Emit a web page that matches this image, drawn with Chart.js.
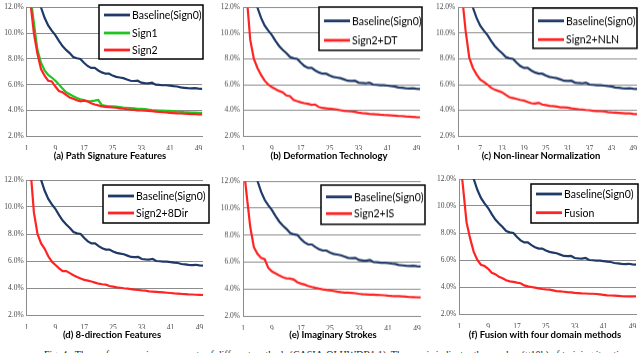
<!DOCTYPE html>
<html>
<head>
<meta charset="utf-8">
<script src="https://cdn.jsdelivr.net/npm/chart.js@4.4.0/dist/chart.umd.min.js"></script>
<style>
html, body { margin: 0; padding: 0; background: #fff; width: 640px; height: 353px; overflow: hidden; position: relative; }
canvas { position: absolute; }
.cap { position: absolute; font: bold 9.5px Lato, sans-serif; color: #000; white-space: nowrap; transform: translate(-50%, -50%); }
.fig { position: absolute; left: 44px; top: 349px; font: 10px "Liberation Serif", serif; color: #222; white-space: nowrap; }
</style>
</head>
<body>
<div class="fig">Fig. 4.&nbsp;&nbsp;The performance improvements of different methods (CASIA-OLHWDB1.1). The x-axis indicates the number (×10k) of training iterations.</div>
<script>
// x categories (training checkpoints)
const iterations = ['1','2','3','4','5','6','7','8','9','10','11','12','13','14','15','16','17','18','19','20',
  '21','22','23','24','25','26','27','28','29','30','31','32','33','34','35','36','37','38','39','40',
  '41','42','43','44','45','46','47','48','49','50'];

// error rates (%)
const baseline = [22, 17, 14.5, 12.9, 12.0, 11.2, 10.6, 10.2, 9.85, 9.4,
  9.0, 8.7, 8.45, 8.15, 8.05, 8.0, 7.7, 7.45, 7.3, 7.3,
  7.1, 6.95, 6.85, 6.85, 6.7, 6.6, 6.55, 6.5, 6.4, 6.3,
  6.28, 6.3, 6.15, 6.12, 6.1, 6.15, 6.0, 5.98, 5.95, 5.95,
  5.92, 5.88, 5.85, 5.78, 5.75, 5.72, 5.7, 5.72, 5.68, 5.66];
const sign1 = [22, 13, 10.8, 8.7, 7.7, 7.1, 6.75, 6.55, 6.3, 6.0,
  5.7, 5.4, 5.25, 5.1, 4.95, 4.85, 4.8, 4.7, 4.72, 4.75,
  4.8, 4.4, 4.35, 4.3, 4.3, 4.28, 4.25, 4.22, 4.2, 4.18,
  4.15, 4.12, 4.12, 4.1, 4.05, 4.02, 4.0, 3.98, 3.97, 3.96,
  3.95, 3.93, 3.9, 3.88, 3.86, 3.85, 3.83, 3.82, 3.81, 3.8];
const sign2 = [20, 12.5, 10.0, 8.4, 7.2, 6.7, 6.3, 6.25, 5.85, 5.5,
  5.4, 5.2, 5.0, 4.9, 4.78, 4.7, 4.75, 4.7, 4.55, 4.45,
  4.38, 4.3, 4.27, 4.25, 4.22, 4.2, 4.15, 4.12, 4.08, 4.05,
  4.03, 4.0, 4.0, 3.97, 3.95, 3.93, 3.9, 3.87, 3.85, 3.83,
  3.8, 3.78, 3.76, 3.75, 3.73, 3.72, 3.7, 3.7, 3.69, 3.68];
const sign2DT = [20, 13, 9.5, 8.0, 7.3, 6.75, 6.3, 6.0, 5.8, 5.65,
  5.5, 5.4, 5.15, 5.1, 4.8, 4.7, 4.62, 4.55, 4.5, 4.42,
  4.45, 4.25, 4.18, 4.15, 4.12, 4.1, 4.05, 4.0, 3.95, 3.92,
  3.9, 3.87, 3.82, 3.78, 3.75, 3.72, 3.7, 3.68, 3.65, 3.63,
  3.62, 3.6, 3.58, 3.56, 3.55, 3.52, 3.5, 3.48, 3.46, 3.45];
const sign2NLN = [20, 13, 10.2, 8.1, 7.3, 6.8, 6.4, 6.2, 6.0, 5.75,
  5.6, 5.5, 5.4, 5.2, 5.02, 4.95, 4.88, 4.8, 4.75, 4.65,
  4.55, 4.52, 4.58, 4.45, 4.4, 4.35, 4.32, 4.28, 4.22, 4.22,
  4.2, 4.15, 4.12, 4.08, 4.05, 4.02, 4.0, 3.95, 3.93, 3.92,
  3.9, 3.85, 3.83, 3.82, 3.8, 3.78, 3.76, 3.75, 3.72, 3.7];
const sign2Dir8 = [20, 13, 9.6, 8.0, 7.3, 6.9, 6.35, 5.95, 5.7, 5.45,
  5.25, 5.25, 5.1, 4.95, 4.82, 4.7, 4.6, 4.55, 4.48, 4.4,
  4.32, 4.28, 4.25, 4.15, 4.1, 4.05, 4.02, 3.98, 3.95, 3.92,
  3.88, 3.85, 3.82, 3.8, 3.75, 3.73, 3.71, 3.69, 3.67, 3.65,
  3.63, 3.6, 3.58, 3.56, 3.55, 3.53, 3.52, 3.5, 3.49, 3.48];
const sign2IS = [13.5, 11.0, 8.6, 7.1, 6.6, 6.3, 6.2, 5.55, 5.3, 5.15,
  5.0, 4.88, 4.78, 4.77, 4.7, 4.5, 4.4, 4.32, 4.22, 4.15,
  4.08, 4.02, 3.97, 3.93, 3.9, 3.85, 3.8, 3.76, 3.73, 3.72,
  3.7, 3.68, 3.64, 3.61, 3.6, 3.58, 3.57, 3.56, 3.55, 3.53,
  3.5, 3.48, 3.47, 3.46, 3.44, 3.42, 3.4, 3.39, 3.38, 3.37];
const fusion = [14, 11.5, 8.8, 7.6, 6.6, 6.0, 5.65, 5.55, 5.35, 5.05,
  4.95, 4.75, 4.65, 4.5, 4.42, 4.38, 4.32, 4.28, 4.12, 4.05,
  4.0, 3.95, 3.9, 3.85, 3.82, 3.8, 3.75, 3.7, 3.68, 3.65,
  3.62, 3.6, 3.56, 3.55, 3.53, 3.52, 3.5, 3.5, 3.48, 3.45,
  3.42, 3.38, 3.37, 3.36, 3.34, 3.32, 3.31, 3.3, 3.3, 3.3];

const yTicks = [2, 4, 6, 8, 10, 12];

const NAVY = '#1F3A68', GREEN = '#22C422', RED = '#FF2424';

// one entry per small chart: series + where it sits on the page
const panels = [
  { cap: '(a) Path Signature Features', step: 8,
    series: [['Baseline(Sign0)', baseline, NAVY], ['Sign1', sign1, GREEN], ['Sign2', sign2, RED]],
    L: 0, T: 0, W: 206, H: 150, yW: 26.7, pt: 5.3, pr: 3.9,
    box: { x: 99, y: 5, w: 104, h: 54, rows: [10, 28, 45] }, capX: 110, capY: 155 },
  { cap: '(b) Deformation Technology', step: 8,
    series: [['Baseline(Sign0)', baseline, NAVY], ['Sign2+DT', sign2DT, RED]],
    L: 213, T: 0, W: 211, H: 149.7, yW: 30, pt: 5.3, pr: 4,
    box: { x: 319, y: 7, w: 103, h: 43, rows: [13.7, 33] }, capX: 329, capY: 155 },
  { cap: '(c) Non-linear Normalization', step: 6,
    series: [['Baseline(Sign0)', baseline, NAVY], ['Sign2+NLN', sign2NLN, RED]],
    L: 426, T: 0, W: 214, H: 149.7, yW: 32.3, pt: 5.3, pr: 3,
    box: { x: 533, y: 8, w: 104, h: 40, rows: [12.7, 31.3] }, capX: 541, capY: 155 },
  { cap: '(d) 8-direction Features', step: 8,
    series: [['Baseline(Sign0)', baseline, NAVY], ['Sign2+8Dir', sign2Dir8, RED]],
    L: 0, T: 170, W: 210, H: 159, yW: 26.7, pt: 10, pr: 7,
    box: { x: 103, y: 185, w: 106, h: 38, rows: [11, 28] }, capX: 112, capY: 334 },
  { cap: '(e) Imaginary Strokes', step: 8,
    series: [['Baseline(Sign0)', baseline, NAVY], ['Sign2+IS', sign2IS, RED]],
    L: 213, T: 170, W: 213, H: 159.7, yW: 30, pt: 11, pr: 5.4,
    box: { x: 321, y: 185, w: 104, h: 39, rows: [11.7, 28.3] }, capX: 333, capY: 334 },
  { cap: '(f) Fusion with four domain methods', step: 8,
    series: [['Baseline(Sign0)', baseline, NAVY], ['Fusion', fusion, RED]],
    L: 426, T: 170, W: 214, H: 158.3, yW: 33.3, pt: 9, pr: 4,
    box: { x: 531, y: 184, w: 107, h: 39, rows: [10, 28.7] }, capX: 545, capY: 334.3 }
];

// excel-style legend box inside the plot
const boxLegend = {
  id: 'boxLegend',
  afterDatasetsDraw(chart, args, opts) {
    const b = opts.box, ctx = chart.ctx;
    const x = b.x - opts.L, y = b.y - opts.T;
    ctx.save();
    ctx.fillStyle = '#fff';
    ctx.fillRect(x, y, b.w, b.h);
    ctx.lineWidth = 1.5;
    ctx.strokeStyle = '#000';
    ctx.strokeRect(x, y, b.w, b.h);
    ctx.font = '10.5px Lato';
    ctx.textBaseline = 'middle';
    chart.data.datasets.forEach((ds, i) => {
      const ry = y + b.rows[i];
      ctx.strokeStyle = ds.borderColor;
      ctx.lineWidth = 2.8;
      ctx.beginPath(); ctx.moveTo(x + 5, ry); ctx.lineTo(x + 31, ry); ctx.stroke();
      ctx.fillStyle = '#000';
      ctx.fillText(ds.label, x + 33, ry + 0.5);
    });
    ctx.restore();
  }
};

const tickFont = { family: 'Liberation Serif', size: 7.5 };

panels.forEach(p => {
  const c = document.createElement('canvas');
  c.style.left = p.L + 'px'; c.style.top = p.T + 'px';
  c.style.width = p.W + 'px'; c.style.height = p.H + 'px';
  document.body.appendChild(c);

  const cap = document.createElement('div');
  cap.className = 'cap';
  cap.textContent = p.cap;
  cap.style.left = p.capX + 'px'; cap.style.top = p.capY + 'px';
  document.body.appendChild(cap);

  new Chart(c, {
    type: 'line',
    data: {
      labels: iterations,
      datasets: p.series.map((s, i) => ({
        label: s[0], data: s[1], borderColor: s[2], backgroundColor: s[2],
        borderWidth: 2.2, pointRadius: 0, tension: 0, order: p.series.length - i
      }))
    },
    options: {
      responsive: false, maintainAspectRatio: false, animation: false,
      layout: { padding: { top: p.pt, right: p.pr, left: 0, bottom: 0 } },
      plugins: { legend: { display: false }, tooltip: { enabled: false },
        boxLegend: { box: p.box, L: p.L, T: p.T } },
      scales: {
        x: {
          type: 'category', offset: false,
          grid: { display: false },
          border: { display: true, color: '#8C8C8C', width: 1 },
          ticks: { autoSkip: false, maxRotation: 0, padding: 1, color: '#4A4A4A', font: tickFont,
            callback: (v, i) => i % p.step === 0 ? iterations[i] : '' },
          afterFit: s => { s.height = 14; }
        },
        y: {
          min: 2, max: 12,
          grid: { color: '#8C8C8C', lineWidth: 1, drawTicks: false },
          border: { display: true, color: '#8C8C8C', width: 1 },
          ticks: { stepSize: 2, padding: 3, color: '#4A4A4A', font: tickFont,
            callback: v => yTicks.includes(v) ? v.toFixed(1) + '%' : '' },
          afterFit: s => { s.width = p.yW; }
        }
      }
    },
    plugins: [boxLegend]
  });
});
</script>
</body>
</html>
